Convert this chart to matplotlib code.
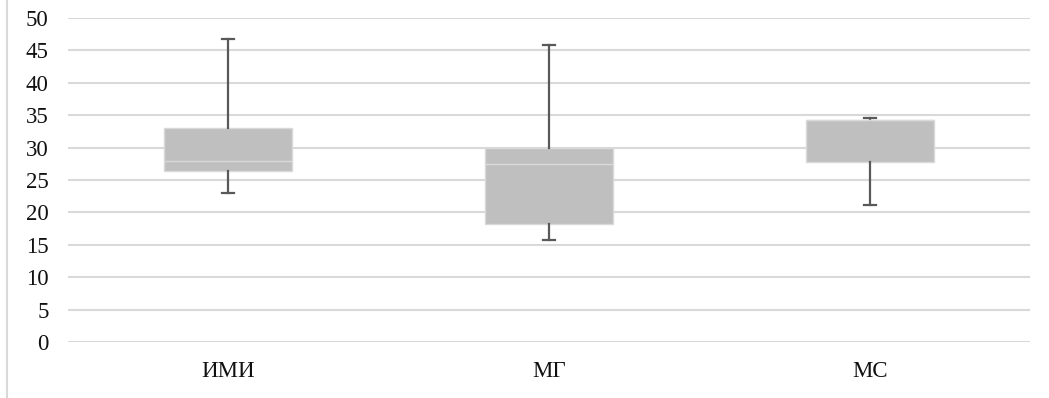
import matplotlib.pyplot as plt
from matplotlib.lines import Line2D

# ------------------------------------------------
#  Data
# ------------------------------------------------
groups = ["ИМИ", "МГ", "МС"]
whisker_low = [23.0, 15.8, 21.2]
q1 = [26.4, 18.2, 27.7]
median = [28.0, 27.4, 34.3]
q3 = [33.0, 30.0, 34.3]
whisker_high = [46.7, 45.8, 34.6]

y_ticks = [0, 5, 10, 15, 20, 25, 30, 35, 40, 45, 50]

# ------------------------------------------------
#  Style
# ------------------------------------------------
plt.rcParams["font.family"] = ["Liberation Serif", "DejaVu Serif"]

BOX_FILL = "#bfbfbf"
BOX_EDGE = "#d9d9d9"
WHISKER = "#595959"
GRID = "#d9d9d9"

stats = []
for i, name in enumerate(groups):
    stats.append({
        "label": name,
        "whislo": whisker_low[i],
        "q1": q1[i],
        "med": median[i],
        "q3": q3[i],
        "whishi": whisker_high[i],
        "fliers": [],
    })

fig = plt.figure(figsize=(10.49, 3.98), dpi=100)
ax = fig.add_axes([0.0648, 0.1407, 0.9172, 0.8141])

ax.bxp(
    stats,
    positions=range(len(groups)),
    widths=0.4,
    patch_artist=True,
    showfliers=False,
    boxprops=dict(facecolor=BOX_FILL, edgecolor=BOX_EDGE, linewidth=1.0),
    medianprops=dict(color=BOX_EDGE, linewidth=1.0),
    whiskerprops=dict(color=WHISKER, linewidth=1.6),
    capprops=dict(color=WHISKER, linewidth=1.6),
    capwidths=0.037,
)

ax.set_xlim(-0.5, len(groups) - 0.5)
ax.set_ylim(0, 50)
ax.set_yticks(y_ticks)
ax.set_xticks(range(len(groups)))
ax.set_xticklabels(groups)

ax.yaxis.grid(True, color=GRID, linewidth=1.5)
ax.set_axisbelow(True)
for side in ["top", "right", "bottom", "left"]:
    ax.spines[side].set_visible(False)

ax.tick_params(axis="y", length=0, pad=14, labelsize=16.5, labelcolor="#111111")
ax.tick_params(axis="x", length=0, pad=14, labelsize=16.5, labelcolor="#111111")

# thin frame line on the left edge of the chart area
fig.add_artist(Line2D([0.0067, 0.0067], [0, 1], transform=fig.transFigure,
                      color=GRID, linewidth=1.5))

fig.savefig("out.png", dpi=100)
